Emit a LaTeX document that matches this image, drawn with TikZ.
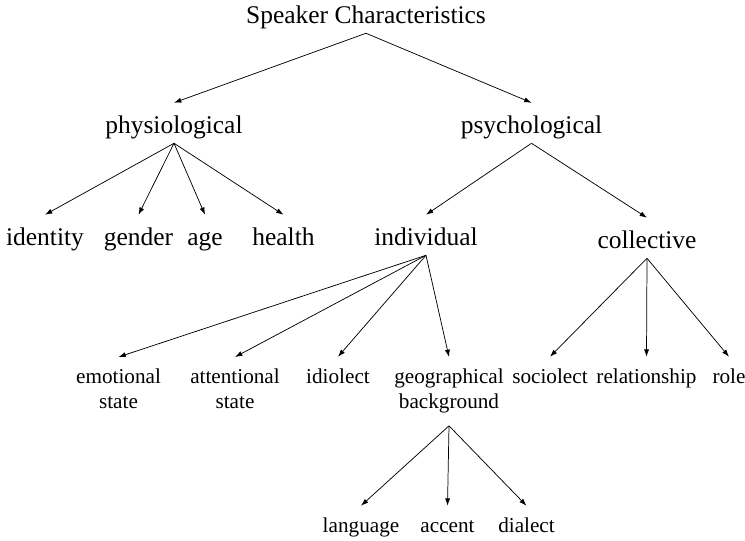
\documentclass[tikz,border=0pt]{standalone}
\usepackage{fontspec}
\setmainfont{Liberation Serif}
\usetikzlibrary{arrows.meta}
\newcommand{\fsupper}{\fontsize{19.1}{23}\selectfont}
\newcommand{\fslower}{\fontsize{15.9}{18.75}\selectfont}
\begin{document}
\begin{tikzpicture}
        [
            x=0.75pt, y=-0.75pt,
            upper/.style={font=\fsupper, inner sep=0pt, text height=22.5pt, text depth=7.5pt, anchor=base},
            lower/.style={font=\fslower, inner sep=0pt, text height=19.5pt, text depth=7.5pt, anchor=base},
            twoline/.style={font=\fslower, align=center, inner xsep=0pt, inner ysep=9pt, anchor=north},
            link/.style={-{Latex[length=5.5pt,width=3.8pt]}, line width=0.55pt}
        ]
        \useasboundingbox (0,0) rectangle (745,540);
        % root
        \node[upper] (speaker) at (366,23) {Speaker Characteristics};
        \node[upper] (physio) at (174,133) {physiological};
        \node[upper] (psycho) at (531.5,133) {psychological};
        \draw[link] (speaker.south) -- (physio.north);
        \draw[link] (speaker.south) -- (psycho.north);
        % physiological
        \node[upper] (identity) at (45,245) {identity};
        \node[upper] (gender) at (138.5,245) {gender};
        \node[upper] (age) at (205,245) {age};
        \node[upper] (health) at (283.5,245) {health};
        \draw[link] (physio.south) -- (identity.north);
        \draw[link] (physio.south) -- (gender.north);
        \draw[link] (physio.south) -- (age.north);
        \draw[link] (physio.south) -- (health.north);
        % psychological
        \node[upper] (indiv) at (426,245) {individual};
        \node[upper] (collect) at (647,248) {collective};
        \draw[link] (psycho.south) -- (indiv.north);
        \draw[link] (psycho.south) -- (collect.north);
        % individual
        \node[twoline] (emotion) at (118.5,357) {emotional\\state};
        \node[twoline] (attention) at (235,357) {attentional\\state};
        \node[lower] (idiolect) at (338,383) {idiolect};
        \node[twoline] (geo) at (449,357) {geographical\\background};
        \draw[link] (indiv.south) -- (emotion.north);
        \draw[link] (indiv.south) -- (attention.north);
        \draw[link] (indiv.south) -- (idiolect.north);
        \draw[link] (indiv.south) -- (geo.north);
        % collective
        \node[lower] (sociolect) at (550,383) {sociolect};
        \node[lower] (relation) at (646.5,383) {relationship};
        \node[lower] (role) at (729,383) {role};
        \draw[link] (collect.south) -- (sociolect.north);
        \draw[link] (collect.south) -- (relation.north);
        \draw[link] (collect.south) -- (role.north);
        % geographical background
        \node[lower] (language) at (361,532) {language};
        \node[lower] (accent) at (447.5,532) {accent};
        \node[lower] (dialect) at (526.5,532) {dialect};
        \draw[link] (geo.south) -- (language.north);
        \draw[link] (geo.south) -- (accent.north);
        \draw[link] (geo.south) -- (dialect.north);
    \end{tikzpicture}
\end{document}
